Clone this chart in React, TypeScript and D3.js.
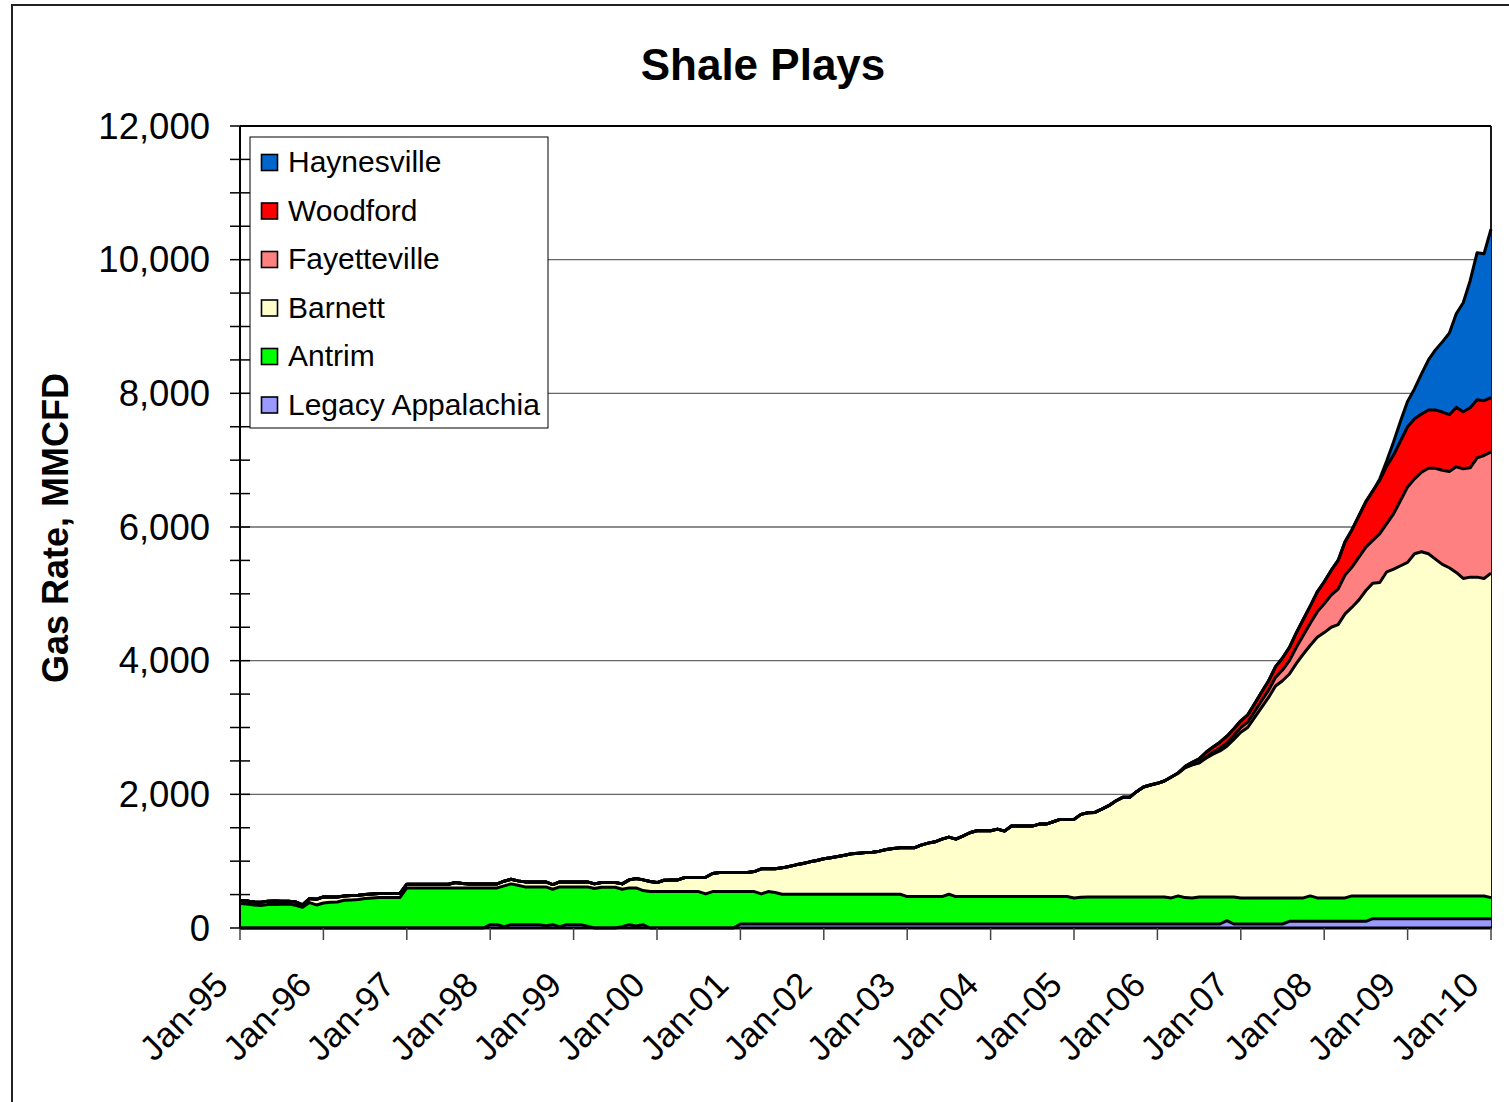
import React from "react";
import * as d3 from "d3";

// Month-by-month values, Jan-95 .. Jan-10 (181 months), MMCFD
const tickLabels = ["Jan-95", "Jan-96", "Jan-97", "Jan-98", "Jan-99", "Jan-00", "Jan-01", "Jan-02", "Jan-03", "Jan-04", "Jan-05", "Jan-06", "Jan-07", "Jan-08", "Jan-09", "Jan-10"];

const seriesKeys = ["Legacy Appalachia", "Antrim", "Barnett", "Fayetteville", "Woodford", "Haynesville"];
const seriesColors = ["#9999FF", "#00FF00", "#FFFFCC", "#FF8080", "#FF0000", "#0066CC"];
const legendOrder = ["Haynesville", "Woodford", "Fayetteville", "Barnett", "Antrim", "Legacy Appalachia"];

const legacy = [
  0, 0, 0, 0, 0, 0, 0, 0, 0, 0, 0, 0,
  0, 0, 0, 0, 0, 0, 0, 0, 0, 0, 0, 0,
  0, 0, 0, 0, 0, 0, 0, 0, 0, 0, 0, 0,
  50, 50, 20, 50, 50, 50, 50, 50, 35, 50, 20, 50,
  50, 50, 25, 0, 0, 0, 0, 20, 50, 30, 50, 0,
  0, 0, 0, 0, 0, 0, 0, 0, 0, 0, 0, 0,
  60, 60, 60, 60, 60, 60, 60, 60, 60, 60, 60, 60,
  60, 60, 60, 60, 60, 60, 60, 60, 60, 60, 60, 60,
  60, 60, 60, 60, 60, 60, 60, 60, 60, 60, 60, 60,
  60, 60, 60, 60, 60, 60, 60, 60, 60, 60, 60, 60,
  60, 60, 60, 60, 60, 60, 60, 60, 60, 60, 60, 60,
  60, 60, 60, 60, 60, 60, 60, 60, 60, 60, 110, 60,
  60, 60, 60, 60, 60, 60, 60, 100, 100, 100, 100, 100,
  100, 100, 100, 100, 100, 100, 100, 140, 140, 140, 140, 140,
  140, 140, 140, 140, 140, 140, 140, 140, 140, 140, 140, 140,
  140,
];

const antrim = [
  365, 360, 345, 335, 350, 350, 355, 360, 340, 310, 380, 345,
  375, 385, 390, 415, 420, 425, 440, 450, 455, 455, 455, 455,
  600, 600, 600, 600, 600, 600, 600, 600, 600, 600, 600, 600,
  550, 550, 610, 610, 590, 565, 565, 565, 580, 530, 595, 565,
  565, 565, 590, 590, 610, 610, 610, 560, 550, 570, 510, 545,
  545, 545, 545, 545, 545, 545, 545, 510, 545, 545, 545, 545,
  485, 485, 485, 450, 485, 470, 445, 445, 445, 445, 445, 445,
  445, 445, 445, 445, 445, 445, 445, 445, 445, 445, 445, 445,
  410, 410, 410, 410, 410, 410, 445, 410, 410, 410, 410, 410,
  410, 410, 410, 410, 410, 410, 410, 410, 410, 410, 410, 410,
  390, 400, 405, 405, 405, 405, 405, 405, 405, 405, 405, 405,
  405, 405, 390, 420, 395, 390, 405, 405, 405, 405, 355, 405,
  390, 390, 390, 390, 390, 390, 390, 350, 350, 350, 380, 350,
  350, 350, 350, 350, 380, 380, 380, 340, 340, 340, 340, 340,
  340, 340, 340, 340, 340, 340, 340, 340, 340, 340, 340, 340,
  315,
];

const barnett = [
  45, 45, 45, 50, 50, 55, 45, 40, 50, 35, 60, 85,
  90, 80, 75, 65, 65, 65, 60, 60, 60, 60, 60, 60,
  55, 55, 55, 55, 55, 55, 55, 80, 65, 60, 60, 60,
  60, 60, 70, 70, 65, 75, 75, 75, 75, 70, 75, 75,
  75, 75, 75, 70, 70, 70, 70, 80, 120, 140, 160, 150,
  135, 170, 175, 175, 210, 210, 210, 250, 270, 285, 285, 285,
  285, 285, 300, 375, 340, 355, 395, 415, 440, 460, 485, 505,
  530, 545, 565, 585, 605, 615, 625, 630, 645, 670, 685, 695,
  730, 730, 770, 800, 820, 860, 855, 860, 905, 955, 985, 985,
  985, 1010, 980, 1055, 1055, 1055, 1055, 1085, 1085, 1120, 1155, 1155,
  1175, 1240, 1260, 1265, 1315, 1365, 1435, 1490, 1490, 1575, 1645, 1675,
  1700, 1735, 1810, 1840, 1945, 1990, 2005, 2075, 2135, 2185, 2255, 2355,
  2480, 2550, 2700, 2850, 3000, 3170, 3250, 3350, 3510, 3650, 3750, 3900,
  3970, 4050, 4090, 4250, 4320, 4430, 4570, 4680, 4690, 4850, 4890, 4940,
  4990, 5120, 5150, 5120, 5040, 4960, 4910, 4840, 4750, 4770, 4770, 4750,
  4855,
];

const fayetteville = [
  0, 0, 0, 0, 0, 0, 0, 0, 0, 0, 0, 0,
  0, 0, 0, 0, 0, 0, 0, 0, 0, 0, 0, 0,
  0, 0, 0, 0, 0, 0, 0, 0, 0, 0, 0, 0,
  0, 0, 0, 0, 0, 0, 0, 0, 0, 0, 0, 0,
  0, 0, 0, 0, 0, 0, 0, 0, 0, 0, 0, 0,
  0, 0, 0, 0, 0, 0, 0, 0, 0, 0, 0, 0,
  0, 0, 0, 0, 0, 0, 0, 0, 0, 0, 0, 0,
  0, 0, 0, 0, 0, 0, 0, 0, 0, 0, 0, 0,
  0, 0, 0, 0, 0, 0, 0, 0, 0, 0, 0, 0,
  0, 0, 0, 0, 0, 0, 0, 0, 0, 0, 0, 0,
  0, 0, 0, 0, 0, 0, 0, 0, 0, 0, 0, 0,
  0, 0, 0, 0, 0, 0, 0, 20, 30, 40, 50, 60,
  70, 80, 90, 100, 110, 130, 160, 200, 240, 280, 330, 380,
  430, 480, 530, 580, 600, 640, 650, 640, 730, 720, 830, 980,
  1130, 1120, 1190, 1280, 1360, 1410, 1440, 1580, 1640, 1635, 1785, 1840,
  1815,
];

const woodford = [
  0, 0, 0, 0, 0, 0, 0, 0, 0, 0, 0, 0,
  0, 0, 0, 0, 0, 0, 0, 0, 0, 0, 0, 0,
  0, 0, 0, 0, 0, 0, 0, 0, 0, 0, 0, 0,
  0, 0, 0, 0, 0, 0, 0, 0, 0, 0, 0, 0,
  0, 0, 0, 0, 0, 0, 0, 0, 0, 0, 0, 0,
  0, 0, 0, 0, 0, 0, 0, 0, 0, 0, 0, 0,
  0, 0, 0, 0, 0, 0, 0, 0, 0, 0, 0, 0,
  0, 0, 0, 0, 0, 0, 0, 0, 0, 0, 0, 0,
  0, 0, 0, 0, 0, 0, 0, 0, 0, 0, 0, 0,
  0, 0, 0, 0, 0, 0, 0, 0, 0, 0, 0, 0,
  0, 0, 0, 0, 0, 0, 0, 0, 0, 0, 0, 0,
  0, 0, 0, 0, 20, 40, 60, 70, 80, 90, 100, 100,
  100, 110, 120, 130, 140, 160, 180, 200, 220, 240, 260, 300,
  330, 370, 430, 500, 560, 620, 680, 740, 800, 860, 880, 890,
  900, 900, 870, 870, 870, 870, 850, 890, 855, 900, 870, 820,
  810,
];

const haynesville = [
  0, 0, 0, 0, 0, 0, 0, 0, 0, 0, 0, 0,
  0, 0, 0, 0, 0, 0, 0, 0, 0, 0, 0, 0,
  0, 0, 0, 0, 0, 0, 0, 0, 0, 0, 0, 0,
  0, 0, 0, 0, 0, 0, 0, 0, 0, 0, 0, 0,
  0, 0, 0, 0, 0, 0, 0, 0, 0, 0, 0, 0,
  0, 0, 0, 0, 0, 0, 0, 0, 0, 0, 0, 0,
  0, 0, 0, 0, 0, 0, 0, 0, 0, 0, 0, 0,
  0, 0, 0, 0, 0, 0, 0, 0, 0, 0, 0, 0,
  0, 0, 0, 0, 0, 0, 0, 0, 0, 0, 0, 0,
  0, 0, 0, 0, 0, 0, 0, 0, 0, 0, 0, 0,
  0, 0, 0, 0, 0, 0, 0, 0, 0, 0, 0, 0,
  0, 0, 0, 0, 0, 0, 0, 0, 0, 0, 0, 0,
  0, 0, 0, 0, 0, 0, 0, 0, 0, 0, 0, 0,
  0, 0, 0, 0, 0, 0, 0, 0, 20, 80, 200, 300,
  380, 450, 600, 750, 900, 1050, 1220, 1400, 1630, 1900, 2200, 2200,
  2520,
];

const seriesValues: Record<string, number[]> = {
  "Legacy Appalachia": legacy,
  Antrim: antrim,
  Barnett: barnett,
  Fayetteville: fayetteville,
  Woodford: woodford,
  Haynesville: haynesville,
};

const FONT = "'Liberation Sans', Arial, Helvetica, sans-serif";

export default function App() {
  const W = 1509;
  const H = 1102;
  const left = 240;
  const right = 1491;
  const top = 126;
  const bottom = 928;
  const nMonths = legacy.length;

  const x = d3.scaleLinear().domain([0, nMonths - 1]).range([left, right]);
  const y = d3.scaleLinear().domain([0, 12000]).range([bottom, top]);

  const rows = legacy.map((_, i) => {
    const r: Record<string, number> = {};
    seriesKeys.forEach((k) => (r[k] = seriesValues[k][i]));
    return r;
  });
  const stacked = d3.stack<Record<string, number>>().keys(seriesKeys)(rows);

  const area = d3
    .area<[number, number]>()
    .x((_, i) => x(i))
    .y0((d) => y(d[0]))
    .y1((d) => y(d[1]));
  const topLine = d3
    .line<[number, number]>()
    .x((_, i) => x(i))
    .y((d) => y(d[1]));

  const gridVals = [2000, 4000, 6000, 8000, 10000];
  const labelVals = [0, 2000, 4000, 6000, 8000, 10000, 12000];
  const minorVals = d3.range(0, 12001, 500);
  const fmt = d3.format(",");
  const yearIdx = tickLabels.map((_, i) => i * 12);

  const legendX = 250;
  const legendY = 137;
  const legendW = 298;
  const legendH = 291;
  const legendStep = 48.5;

  return (
    <svg
      width={W}
      height={H}
      viewBox={`0 0 ${W} ${H}`}
      style={{ position: "absolute", left: 0, top: 0, display: "block", background: "#fff" }}
      fontFamily={FONT}
    >
      <rect x={0} y={0} width={W} height={H} fill="#fff" />
      {/* outer chart border */}
      <rect x={12} y={5} width={W + 20} height={H + 20} fill="none" stroke="#222" strokeWidth={2} />

      {/* title */}
      <text x={763} y={80} textAnchor="middle" fontSize={44} fontWeight="bold" fill="#000">
        Shale Plays
      </text>

      {/* gridlines */}
      {gridVals.map((v) => (
        <line key={v} x1={left} x2={right} y1={y(v)} y2={y(v)} stroke="#666" strokeWidth={1.3} />
      ))}
      {/* plot border (top & right) */}
      <line x1={left} x2={right} y1={top} y2={top} stroke="#000" strokeWidth={1.8} />
      <line x1={right} x2={right} y1={top} y2={bottom} stroke="#000" strokeWidth={1.8} />

      {/* stacked areas */}
      {stacked.map((s, i) => (
        <path key={s.key} d={area(s as any) || ""} fill={seriesColors[i]} stroke="none" />
      ))}
      {stacked.map((s) => (
        <path
          key={"l" + s.key}
          d={topLine(s as any) || ""}
          fill="none"
          stroke="#000"
          strokeWidth={3}
          strokeLinejoin="round"
        />
      ))}

      {/* x axis */}
      <line x1={left} x2={right + 1} y1={bottom} y2={bottom} stroke="#000" strokeWidth={3} />
      {yearIdx.map((m) => (
        <line key={m} x1={x(m)} x2={x(m)} y1={bottom} y2={bottom + 12} stroke="#444" strokeWidth={1.5} />
      ))}
      {yearIdx.map((m, i) => (
        <text
          key={"t" + m}
          transform={`translate(${x(m) - 10},${987}) rotate(-45)`}
          textAnchor="end"
          fontSize={35}
          fill="#000"
        >
          {tickLabels[i]}
        </text>
      ))}

      {/* y axis */}
      <line x1={left} x2={left} y1={top} y2={bottom} stroke="#000" strokeWidth={2} />
      {minorVals.map((v) => (
        <line key={v} x1={left - 10} x2={left + 10} y1={y(v)} y2={y(v)} stroke="#000" strokeWidth={1.5} />
      ))}
      {labelVals.map((v) => (
        <text key={"y" + v} x={210} y={y(v)} dy="0.35em" textAnchor="end" fontSize={36.5} fill="#000">
          {fmt(v)}
        </text>
      ))}
      <text
        transform={`translate(68,528) rotate(-90)`}
        textAnchor="middle"
        fontSize={36}
        fontWeight="bold"
        fill="#000"
      >
        Gas Rate, MMCFD
      </text>

      {/* legend */}
      <rect x={legendX} y={legendY} width={legendW} height={legendH} fill="#fff" stroke="#000" strokeWidth={1} />
      {legendOrder.map((k, i) => {
        const ci = seriesKeys.indexOf(k);
        const cy = legendY + 26 + i * legendStep;
        return (
          <g key={"lg" + k}>
            <rect x={261.5} y={cy - 8.5} width={16} height={16} fill={seriesColors[ci]} stroke="#000" strokeWidth={1.6} />
            <text x={288} y={cy - 1.5} dy="0.36em" fontSize={30} fill="#000">
              {k}
            </text>
          </g>
        );
      })}
    </svg>
  );
}
